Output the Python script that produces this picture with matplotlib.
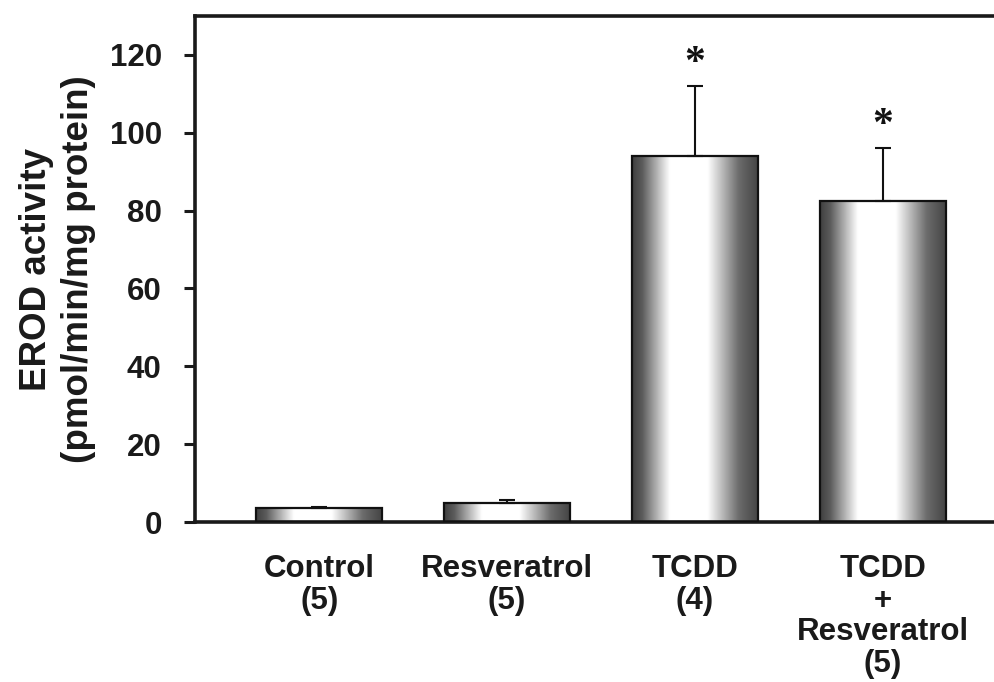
import numpy as np
import matplotlib
matplotlib.use("Agg")
import matplotlib.pyplot as plt

# data
groups = ["Control\n(5)", "Resveratrol\n(5)", "TCDD\n(4)", "TCDD\n+\nResveratrol\n(5)"]
erod = [3.5, 5.0, 94.0, 82.5]
sem = [0.3, 0.7, 18.0, 13.7]
significant = [False, False, True, True]
yticks = [0, 20, 40, 60, 80, 100, 120]

plt.rcParams['font.family'] = ['Liberation Sans', 'DejaVu Sans']
plt.rcParams['font.weight'] = 'bold'


def main():
    fig = plt.figure(figsize=(9.95, 6.82), dpi=100)
    ax = fig.add_axes([0.196, 0.2346, 0.81, 0.742])

    x = np.arange(len(erod))
    width = 0.67

    # cylinder-like shading for the bars
    pos = np.linspace(0, 1, 256)
    shade = np.interp(pos, [0, 0.08, 0.3, 0.6, 0.85, 1.0], [0.25, 0.36, 1.0, 1.0, 0.42, 0.27])
    grad = np.tile(shade, (2, 1))

    bars = ax.bar(x, erod, width, facecolor='none', edgecolor='#111111', linewidth=1.6, zorder=3)
    for b in bars:
        x0, y0 = b.get_x(), b.get_y()
        im = ax.imshow(grad, cmap='gray', vmin=0, vmax=1, aspect='auto',
                       extent=[x0, x0 + b.get_width(), y0, y0 + b.get_height()],
                       interpolation='bilinear', zorder=2)
        im.set_clip_path(b)

    ax.errorbar(x, erod, yerr=[np.zeros(len(sem)), sem], fmt='none', ecolor='#111111',
                elinewidth=1.5, capsize=6, capthick=1.5, zorder=4)

    for xi, m, e, s in zip(x, erod, sem, significant):
        if s:
            ax.text(xi, m + e + 5.6, '*', ha='center', va='center', fontsize=30,
                    fontweight='bold', family=['Liberation Serif', 'DejaVu Serif'],
                    color='#111111')

    ax.set_xlim(-0.662, 3.63)
    ax.set_ylim(0, 130)
    ax.set_yticks(yticks)
    ax.set_xticks(x)
    ax.set_xticklabels(groups, fontsize=22.5, fontweight='bold', color='#1a1a1a',
                       linespacing=1.07)
    ax.tick_params(axis='x', length=0, pad=23)
    ax.tick_params(axis='y', length=8, width=2.2, pad=16, labelsize=22.5, colors='#1a1a1a')

    ax.set_ylabel('EROD activity\n(pmol/min/mg protein)', fontsize=26.5, fontweight='bold',
                  color='#1a1a1a', labelpad=10, linespacing=1.25)

    ax.spines['right'].set_visible(False)
    for side in ['left', 'top', 'bottom']:
        ax.spines[side].set_linewidth(2.6)
        ax.spines[side].set_color('#1a1a1a')

    fig.savefig('out.png', dpi=100)


if __name__ == "__main__":
    main()
